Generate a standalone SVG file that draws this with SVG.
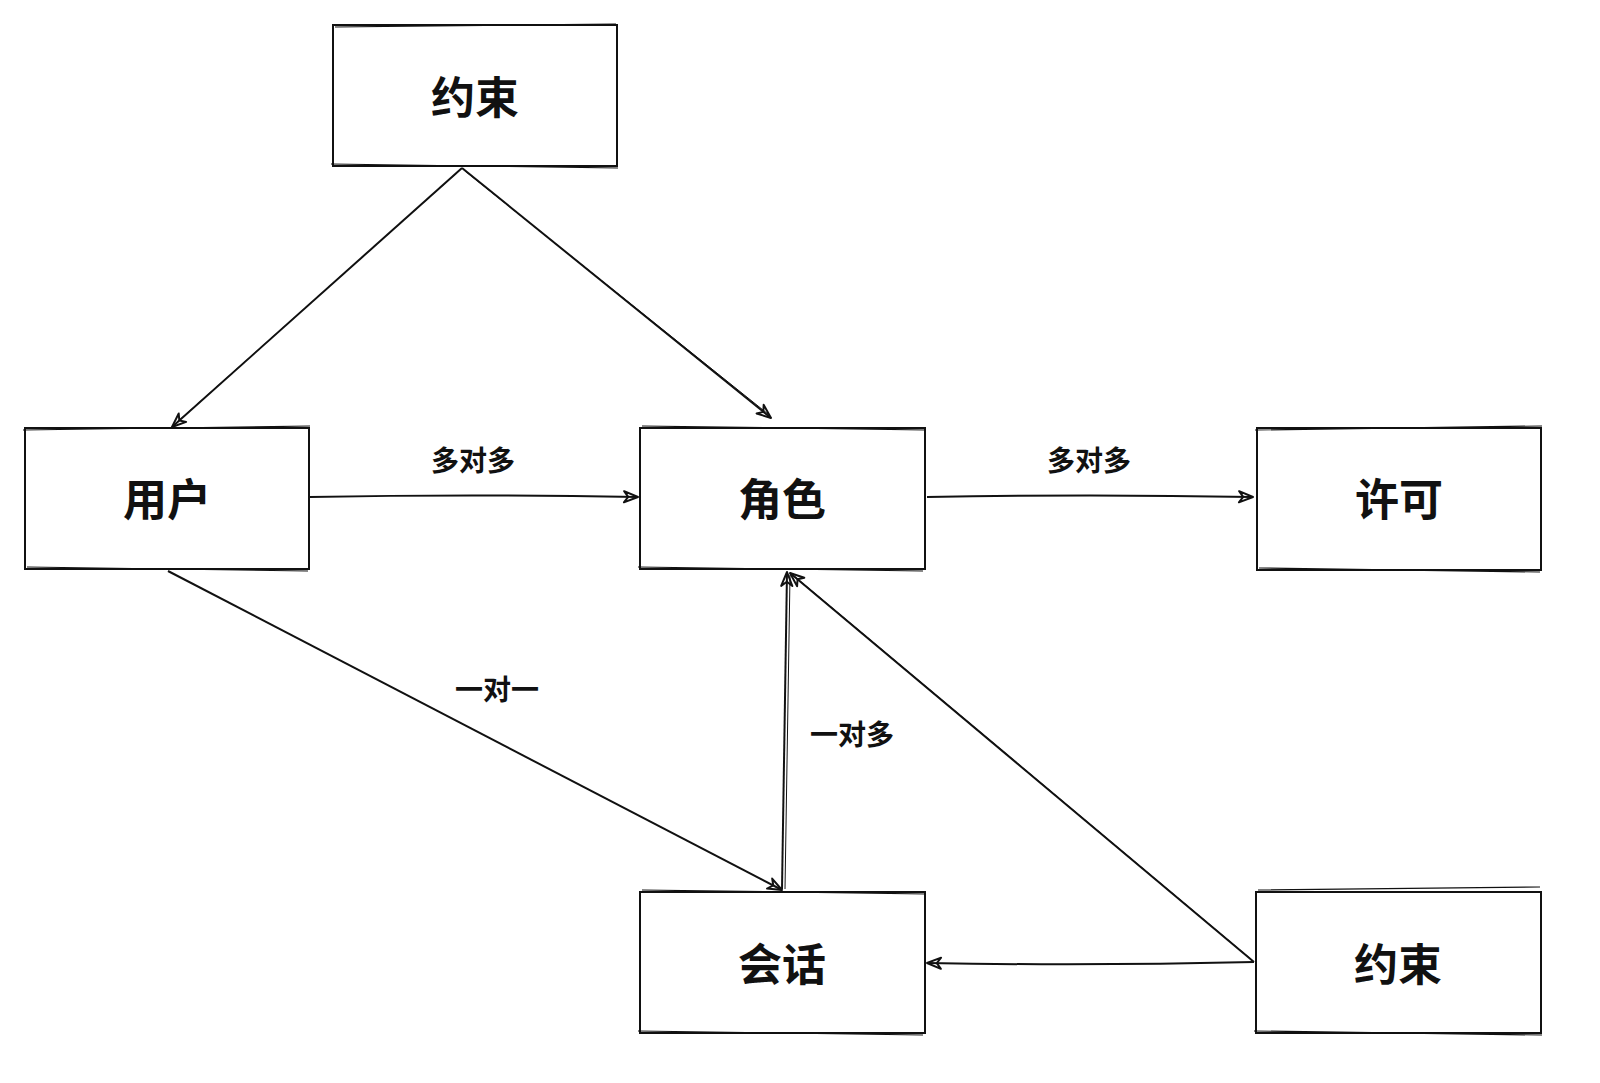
<svg xmlns="http://www.w3.org/2000/svg" width="1600" height="1083" viewBox="0 0 1600 1083">
<style>
.box{fill:#fff;stroke:#111;stroke-width:2}
.sk{fill:none;stroke:#111;stroke-width:1.2}
.t{font-family:"Noto Sans CJK SC","Noto Sans",sans-serif;font-weight:bold;font-size:44px;fill:#111;text-anchor:middle;dominant-baseline:central}
.l{font-family:"Noto Sans CJK SC","Noto Sans",sans-serif;font-weight:bold;font-size:28px;fill:#111;text-anchor:middle;dominant-baseline:central}
.c{fill:none;stroke:#111;stroke-width:2;marker-end:url(#a)}
.c2{fill:none;stroke:#111;stroke-width:1}
</style>
<defs>
<marker id="a" viewBox="0 0 12 10" refX="11" refY="5" markerWidth="17" markerHeight="14" markerUnits="userSpaceOnUse" orient="auto">
<path d="M1,1 L11,5 L1,9 L4,5 Z" fill="none" stroke="#111" stroke-width="1.4" stroke-linejoin="round"/>
</marker>
</defs>
<rect width="1600" height="1083" fill="#fff"/>
<g id="connectors">
<path class="c" d="M462,168 L172,427"/>
<path class="c2" d="M460,170 L175,424"/>
<path class="c" d="M462,168 L771,418"/>
<path class="c2" d="M465,171 L768,414"/>
<path class="c" d="M310,497 Q470,494 638,497"/>
<path class="c" d="M927,497 Q1090,494 1253,497"/>
<path class="c" d="M168,571 L782,890"/>
<path class="c" d="M782,889 L787,572"/>
<path class="c2" d="M785,889 L790,575"/>
<path class="c" d="M1254,962 L790,573"/>
<path class="c2" d="M1252,960 L793,575"/>
<path class="c" d="M1254,962 Q1090,966 927,963"/>
</g>
<g id="labels">
<text class="l" x="473" y="459">多对多</text>
<text class="l" x="1089" y="459">多对多</text>
<text class="l" x="497" y="688">一对一</text>
<text class="l" x="852" y="733">一对多</text>
</g>
<g id="n1">
<rect class="box" x="333" y="25" width="284" height="141"/>
<path class="sk" d="M335,27 L616,24 M331,164 L618,168"/>
<text class="t" x="475" y="95">约束</text>
</g>
<g id="n2">
<rect class="box" x="25" y="428" width="284" height="141"/>
<path class="sk" d="M23,430 L310,426 M27,567 L308,571"/>
<text class="t" x="167" y="497">用户</text>
</g>
<g id="n3">
<rect class="box" x="640" y="428" width="285" height="141"/>
<path class="sk" d="M642,426 L926,430 M638,567 L923,571"/>
<text class="t" x="782" y="497">角色</text>
</g>
<g id="n4">
<rect class="box" x="1257" y="428" width="284" height="142"/>
<path class="sk" d="M1255,430 L1542,426 M1259,568 L1540,572"/>
<text class="t" x="1399" y="497">许可</text>
</g>
<g id="n5">
<rect class="box" x="640" y="892" width="285" height="141"/>
<path class="sk" d="M642,890 L926,894 M638,1031 L923,1035"/>
<text class="t" x="782" y="962">会话</text>
</g>
<g id="n6">
<rect class="box" x="1256" y="892" width="285" height="141"/>
<path class="sk" d="M1258,890 L1540,887 M1254,1031 L1542,1035"/>
<text class="t" x="1398" y="962">约束</text>
</g>
</svg>
